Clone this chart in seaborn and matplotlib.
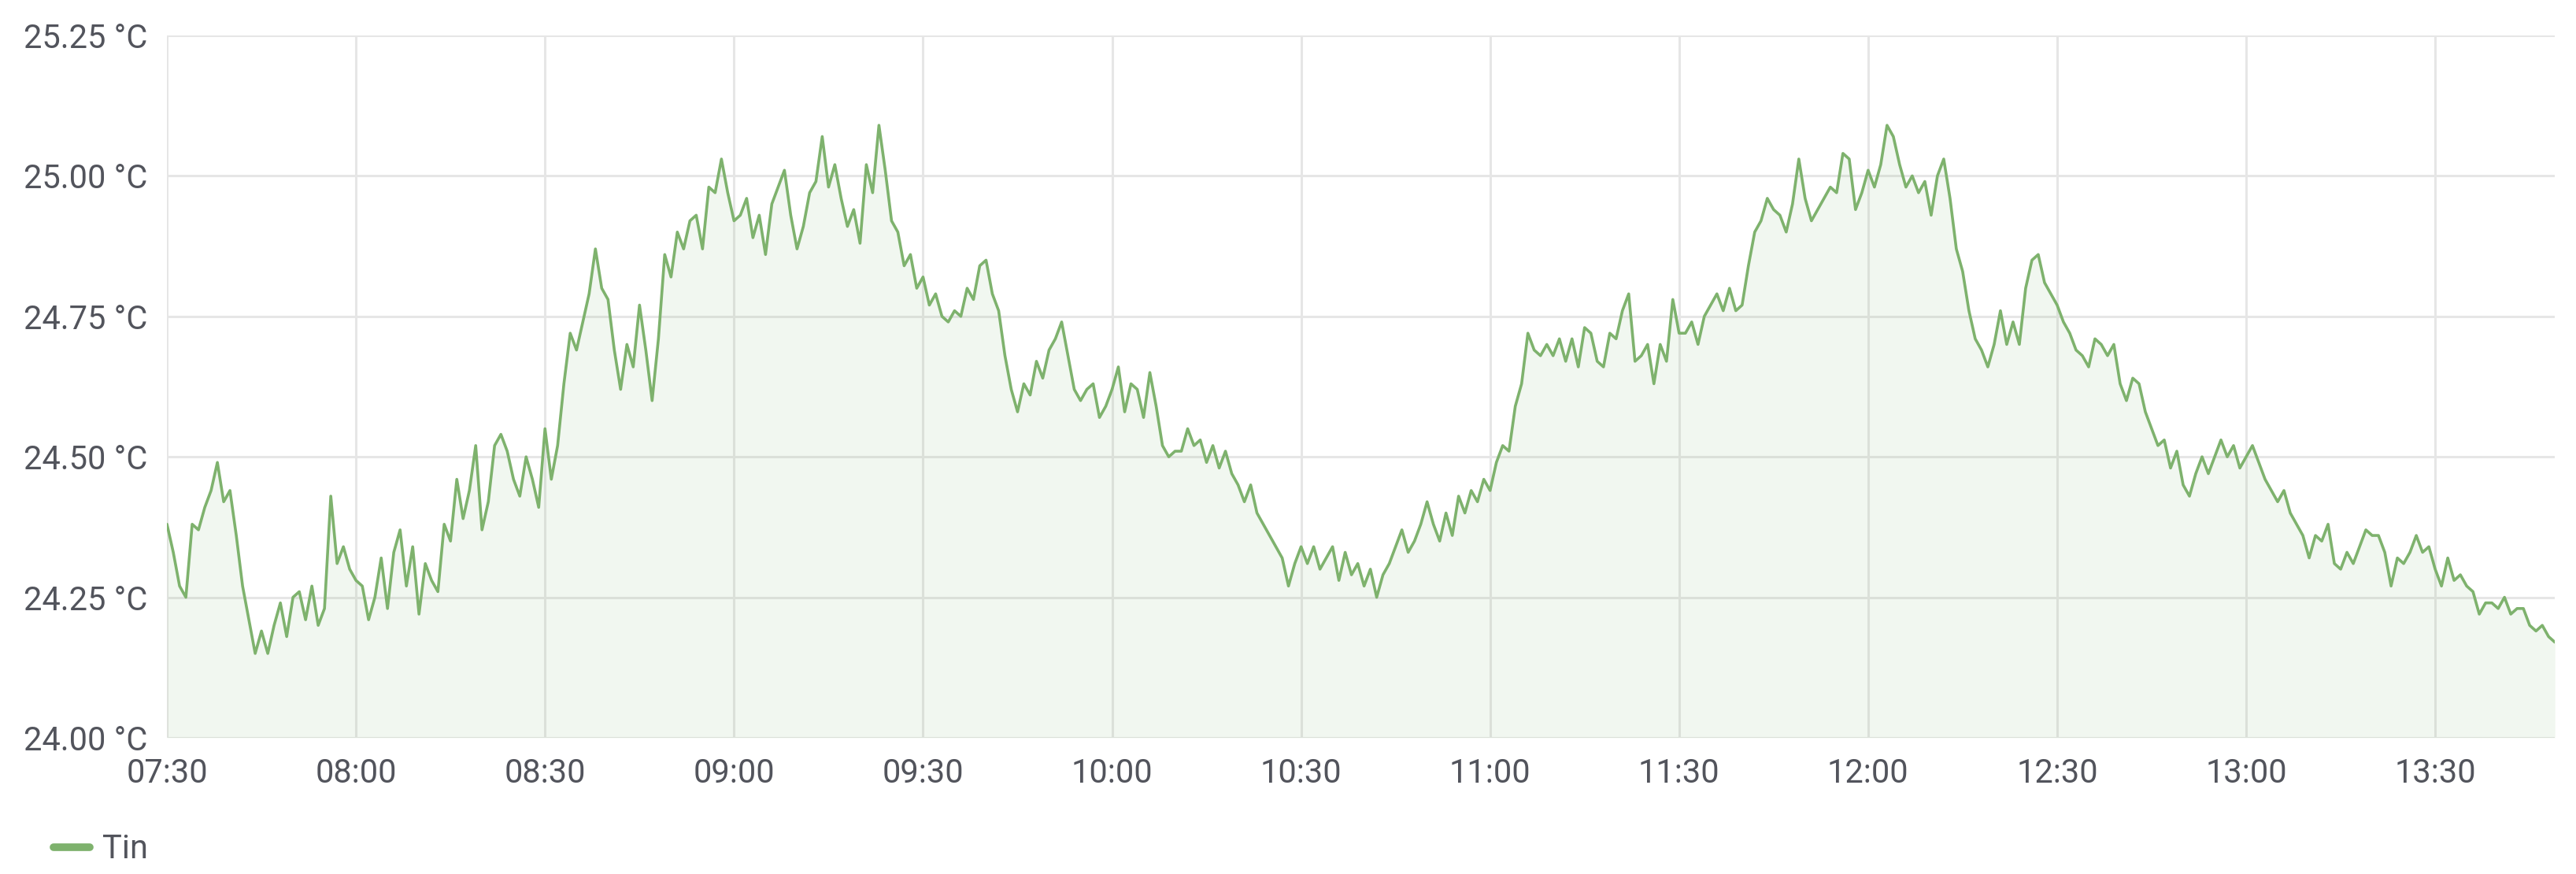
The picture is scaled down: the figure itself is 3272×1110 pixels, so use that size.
import pandas as pd
import matplotlib
matplotlib.use('Agg')
import matplotlib.pyplot as plt
import matplotlib.dates as mdates
from matplotlib.lines import Line2D
from matplotlib.ticker import FuncFormatter
import seaborn as sns

# series, one value per minute from 07:30
series_name = 'Tin'
start_time = '2021-01-01 07:30'
sample_freq = '1min'
y_ticks = [24.00, 24.25, 24.50, 24.75, 25.00, 25.25]
tin_values = [
    24.38, 24.33, 24.27, 24.25, 24.38, 24.37, 24.41, 24.44, 24.49, 24.42,
    24.44, 24.36, 24.27, 24.21, 24.15, 24.19, 24.15, 24.20, 24.24, 24.18,
    24.25, 24.26, 24.21, 24.27, 24.20, 24.23, 24.43, 24.31, 24.34, 24.30,
    24.28, 24.27, 24.21, 24.25, 24.32, 24.23, 24.33, 24.37, 24.27, 24.34,
    24.22, 24.31, 24.28, 24.26, 24.38, 24.35, 24.46, 24.39, 24.44, 24.52,
    24.37, 24.42, 24.52, 24.54, 24.51, 24.46, 24.43, 24.50, 24.46, 24.41,
    24.55, 24.46, 24.52, 24.63, 24.72, 24.69, 24.74, 24.79, 24.87, 24.80,
    24.78, 24.69, 24.62, 24.70, 24.66, 24.77, 24.69, 24.60, 24.71, 24.86,
    24.82, 24.90, 24.87, 24.92, 24.93, 24.87, 24.98, 24.97, 25.03, 24.97,
    24.92, 24.93, 24.96, 24.89, 24.93, 24.86, 24.95, 24.98, 25.01, 24.93,
    24.87, 24.91, 24.97, 24.99, 25.07, 24.98, 25.02, 24.96, 24.91, 24.94,
    24.88, 25.02, 24.97, 25.09, 25.01, 24.92, 24.90, 24.84, 24.86, 24.80,
    24.82, 24.77, 24.79, 24.75, 24.74, 24.76, 24.75, 24.80, 24.78, 24.84,
    24.85, 24.79, 24.76, 24.68, 24.62, 24.58, 24.63, 24.61, 24.67, 24.64,
    24.69, 24.71, 24.74, 24.68, 24.62, 24.60, 24.62, 24.63, 24.57, 24.59,
    24.62, 24.66, 24.58, 24.63, 24.62, 24.57, 24.65, 24.59, 24.52, 24.50,
    24.51, 24.51, 24.55, 24.52, 24.53, 24.49, 24.52, 24.48, 24.51, 24.47,
    24.45, 24.42, 24.45, 24.40, 24.38, 24.36, 24.34, 24.32, 24.27, 24.31,
    24.34, 24.31, 24.34, 24.30, 24.32, 24.34, 24.28, 24.33, 24.29, 24.31,
    24.27, 24.30, 24.25, 24.29, 24.31, 24.34, 24.37, 24.33, 24.35, 24.38,
    24.42, 24.38, 24.35, 24.40, 24.36, 24.43, 24.40, 24.44, 24.42, 24.46,
    24.44, 24.49, 24.52, 24.51, 24.59, 24.63, 24.72, 24.69, 24.68, 24.70,
    24.68, 24.71, 24.67, 24.71, 24.66, 24.73, 24.72, 24.67, 24.66, 24.72,
    24.71, 24.76, 24.79, 24.67, 24.68, 24.70, 24.63, 24.70, 24.67, 24.78,
    24.72, 24.72, 24.74, 24.70, 24.75, 24.77, 24.79, 24.76, 24.80, 24.76,
    24.77, 24.84, 24.90, 24.92, 24.96, 24.94, 24.93, 24.90, 24.95, 25.03,
    24.96, 24.92, 24.94, 24.96, 24.98, 24.97, 25.04, 25.03, 24.94, 24.97,
    25.01, 24.98, 25.02, 25.09, 25.07, 25.02, 24.98, 25.00, 24.97, 24.99,
    24.93, 25.00, 25.03, 24.96, 24.87, 24.83, 24.76, 24.71, 24.69, 24.66,
    24.70, 24.76, 24.70, 24.74, 24.70, 24.80, 24.85, 24.86, 24.81, 24.79,
    24.77, 24.74, 24.72, 24.69, 24.68, 24.66, 24.71, 24.70, 24.68, 24.70,
    24.63, 24.60, 24.64, 24.63, 24.58, 24.55, 24.52, 24.53, 24.48, 24.51,
    24.45, 24.43, 24.47, 24.50, 24.47, 24.50, 24.53, 24.50, 24.52, 24.48,
    24.50, 24.52, 24.49, 24.46, 24.44, 24.42, 24.44, 24.40, 24.38, 24.36,
    24.32, 24.36, 24.35, 24.38, 24.31, 24.30, 24.33, 24.31, 24.34, 24.37,
    24.36, 24.36, 24.33, 24.27, 24.32, 24.31, 24.33, 24.36, 24.33, 24.34,
    24.30, 24.27, 24.32, 24.28, 24.29, 24.27, 24.26, 24.22, 24.24, 24.24,
    24.23, 24.25, 24.22, 24.23, 24.23, 24.20, 24.19, 24.20, 24.18, 24.17,
]

line_color = '#7eb26d'
grid_color = '#e6e6e6'
text_color = '#52545c'

times = pd.date_range(start_time, periods=len(tin_values), freq=sample_freq)
df = pd.DataFrame({'time': times, series_name: tin_values})

sns.set_theme(style='white')
plt.rcParams['font.family'] = ['Roboto', 'DejaVu Sans']

fig = plt.figure(figsize=(32.73, 11.10), dpi=100)
ax = fig.add_axes([0.0648, 0.1559, 0.9267, 0.8036])

# light area under the line, then the line itself
ax.fill_between(df['time'], df[series_name], y_ticks[0], color=line_color,
                alpha=0.1, lw=0, zorder=1)
sns.lineplot(data=df, x='time', y=series_name, ax=ax, color=line_color,
             linewidth=2.6, legend=False, zorder=3)

ax.set_xlim(times[0], times[-1])
ax.set_ylim(y_ticks[0], y_ticks[-1])
ax.set_yticks(y_ticks)
ax.yaxis.set_major_formatter(FuncFormatter(lambda v, p: f'{v:.2f} °C'))
ax.xaxis.set_major_locator(mdates.MinuteLocator(byminute=[0, 30]))
ax.xaxis.set_major_formatter(mdates.DateFormatter('%H:%M'))

ax.grid(True, color=grid_color, linewidth=2.2)
ax.set_axisbelow(True)
for spine in ax.spines.values():
    spine.set_visible(False)
ax.tick_params(axis='y', length=4, width=2.2, color=grid_color, pad=14,
               labelsize=30, labelcolor=text_color)
ax.tick_params(axis='x', length=0, pad=18, labelsize=30, labelcolor=text_color)
ax.set_xlabel('')
ax.set_ylabel('')

handle = Line2D([], [], color=line_color, lw=7)
fig.legend([handle], [series_name], loc='center left',
           bbox_to_anchor=(68 / 3273, 31 / 1110), frameon=False, fontsize=30,
           handlelength=1.1, handletextpad=0.4, borderpad=0, borderaxespad=0,
           labelcolor=text_color)

fig.savefig('out.png', dpi=100)
